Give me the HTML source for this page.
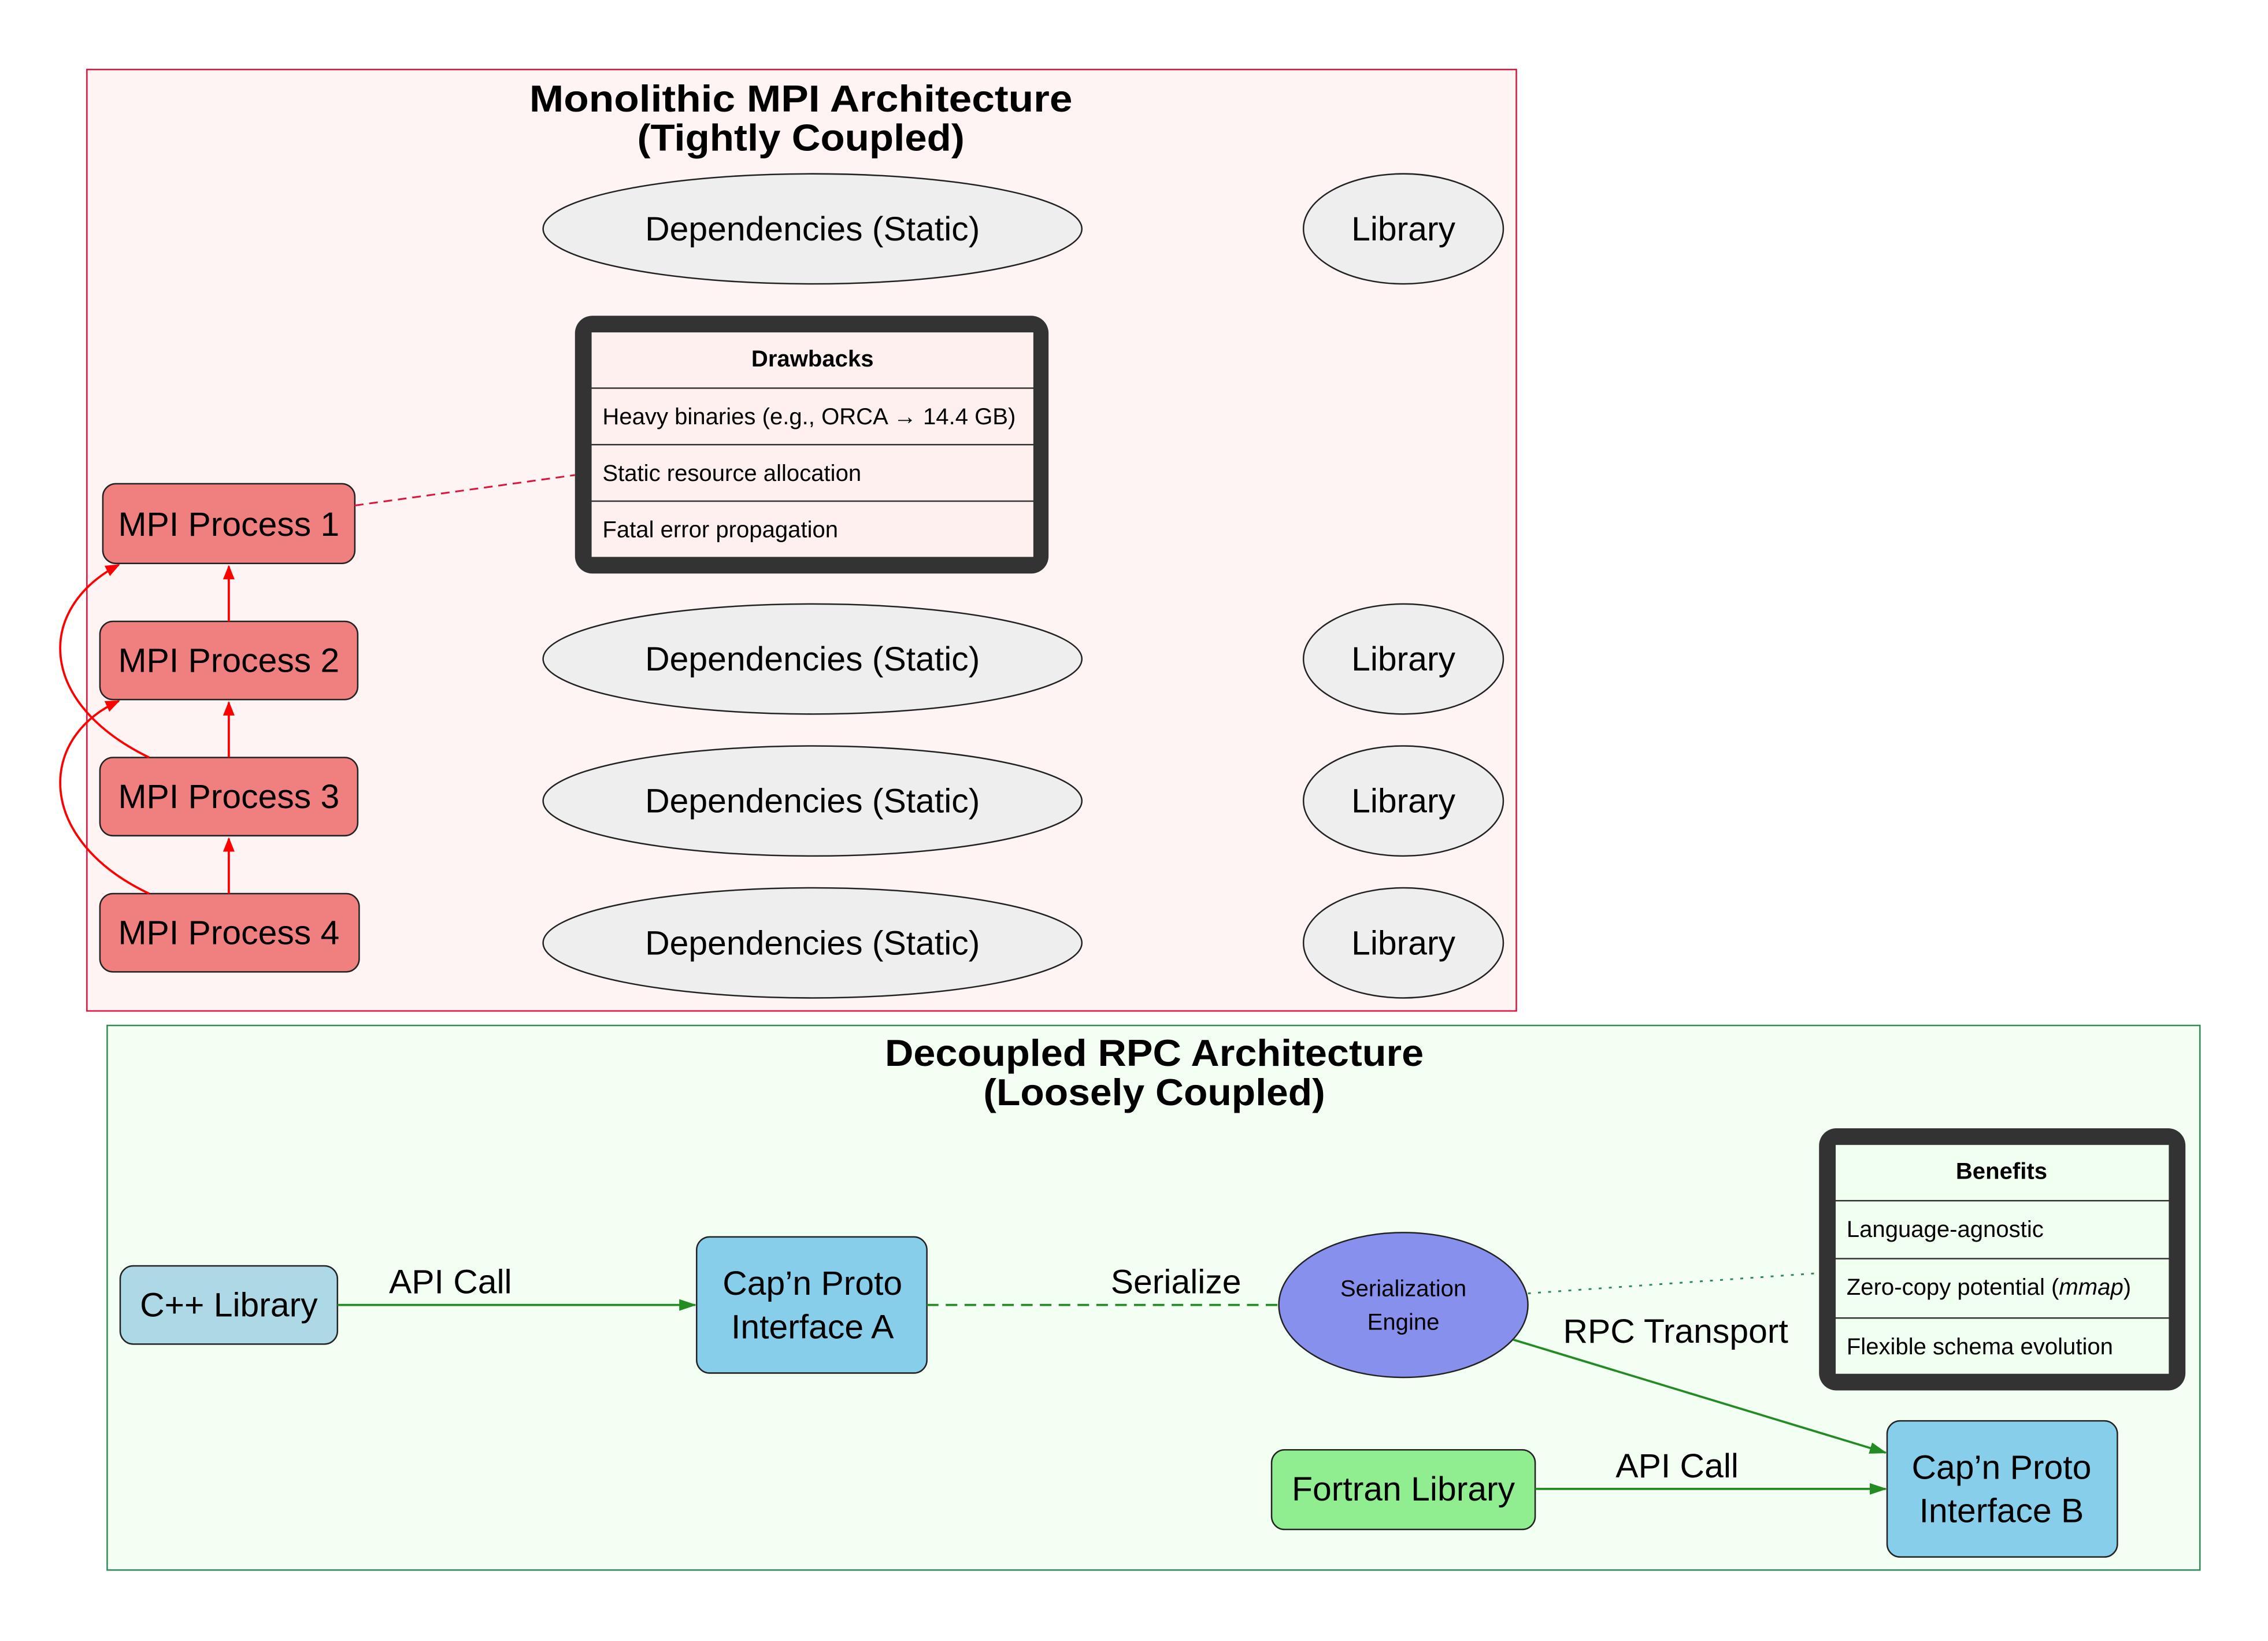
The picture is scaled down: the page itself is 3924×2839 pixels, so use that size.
<!DOCTYPE html>
<html><head><meta charset="utf-8"><style>
html,body{margin:0;padding:0;background:#fff;}
svg{display:block;}
text{font-family:"Liberation Sans","DejaVu Sans",sans-serif;fill:#000;}
</style></head><body>
<svg width="3924" height="2839" viewBox="0 0 1566 1133" preserveAspectRatio="none" xmlns="http://www.w3.org/2000/svg">
<defs>
<marker id="ar" markerWidth="10" markerHeight="10" refX="9" refY="5" orient="auto" markerUnits="userSpaceOnUse"><path d="M0,1 L10,5 L0,9 Z" fill="#ff0000"/></marker>
<marker id="ag" markerWidth="12" markerHeight="10" refX="11" refY="5" orient="auto" markerUnits="userSpaceOnUse"><path d="M0,1 L12,5 L0,9 Z" fill="#228b22"/></marker>
</defs>
<rect width="1566" height="1133" fill="#fff"/>
<!-- Top cluster -->
<rect x="60" y="48" width="987" height="650" fill="#fff4f4" stroke="#dc143c" stroke-width="1"/>
<text x="553" y="77" font-size="26" font-weight="bold" text-anchor="middle" textLength="375" lengthAdjust="spacingAndGlyphs">Monolithic MPI Architecture</text>
<text x="553" y="104" font-size="26" font-weight="bold" text-anchor="middle" textLength="226" lengthAdjust="spacingAndGlyphs">(Tightly Coupled)</text>
<g fill="#eeeeee" stroke="#222" stroke-width="1">
<ellipse cx="561" cy="158" rx="186" ry="38"/><ellipse cx="969" cy="158" rx="69" ry="38"/>
<ellipse cx="561" cy="455" rx="186" ry="38"/><ellipse cx="969" cy="455" rx="69" ry="38"/>
<ellipse cx="561" cy="553" rx="186" ry="38"/><ellipse cx="969" cy="553" rx="69" ry="38"/>
<ellipse cx="561" cy="651" rx="186" ry="38"/><ellipse cx="969" cy="651" rx="69" ry="38"/>
</g>
<g font-size="23.5" text-anchor="middle">
<text x="561" y="166">Dependencies (Static)</text><text x="969" y="166">Library</text>
<text x="561" y="463">Dependencies (Static)</text><text x="969" y="463">Library</text>
<text x="561" y="561">Dependencies (Static)</text><text x="969" y="561">Library</text>
<text x="561" y="659">Dependencies (Static)</text><text x="969" y="659">Library</text>
</g>
<!-- Drawbacks -->
<rect x="397" y="218" width="327" height="178" rx="12" fill="#333"/>
<rect x="408" y="229" width="306" height="156" fill="#fff0f0" stroke="#333" stroke-width="1"/>
<line x1="408" y1="268" x2="714" y2="268" stroke="#333"/>
<line x1="408" y1="307" x2="714" y2="307" stroke="#333"/>
<line x1="408" y1="346" x2="714" y2="346" stroke="#333"/>
<text x="561" y="253" font-size="16" font-weight="bold" text-anchor="middle">Drawbacks</text>
<text x="416" y="293" font-size="16">Heavy binaries (e.g., ORCA → 14.4 GB)</text>
<text x="416" y="332" font-size="16">Static resource allocation</text>
<text x="416" y="371" font-size="16">Fatal error propagation</text>
<!-- MPI processes -->
<g fill="#f08080" stroke="#222" stroke-width="1">
<rect x="71" y="334" width="174" height="55" rx="9"/>
<rect x="69" y="429" width="178" height="54" rx="9"/>
<rect x="69" y="523" width="178" height="54" rx="9"/>
<rect x="69" y="617" width="179" height="54" rx="9"/>
</g>
<g font-size="23.5" text-anchor="middle">
<text x="158" y="370">MPI Process 1</text>
<text x="158" y="464">MPI Process 2</text>
<text x="158" y="558">MPI Process 3</text>
<text x="158" y="652">MPI Process 4</text>
</g>
<g stroke="#ff0000" stroke-width="1.5" fill="none">
<line x1="158" y1="429" x2="158" y2="391" marker-end="url(#ar)"/>
<line x1="158" y1="523" x2="158" y2="485" marker-end="url(#ar)"/>
<line x1="158" y1="617" x2="158" y2="579" marker-end="url(#ar)"/>
<path d="M103,523 C25,485 25,420 82,390" marker-end="url(#ar)"/>
<path d="M103,617 C25,580 25,510 82,484" marker-end="url(#ar)"/>
</g>
<line x1="245" y1="349" x2="397" y2="328" stroke="#dc143c" stroke-width="1.2" stroke-dasharray="6,4"/>
<!-- Bottom cluster -->
<rect x="74" y="708" width="1445" height="376" fill="#f4fff4" stroke="#2e8b57" stroke-width="1"/>
<text x="797" y="736" font-size="26" font-weight="bold" text-anchor="middle" textLength="372" lengthAdjust="spacingAndGlyphs">Decoupled RPC Architecture</text>
<text x="797" y="763" font-size="26" font-weight="bold" text-anchor="middle" textLength="236" lengthAdjust="spacingAndGlyphs">(Loosely Coupled)</text>
<rect x="83" y="874" width="150" height="54" rx="9" fill="#add8e6" stroke="#222"/>
<text x="158" y="909" font-size="23.5" text-anchor="middle">C++ Library</text>
<rect x="481" y="854" width="159" height="94" rx="9" fill="#87ceeb" stroke="#222"/>
<text x="561" y="894" font-size="23.5" text-anchor="middle">Cap’n Proto</text>
<text x="561" y="924" font-size="23.5" text-anchor="middle">Interface A</text>
<ellipse cx="969" cy="901" rx="86" ry="50" fill="#8890ee" stroke="#222"/>
<text x="969" y="895" font-size="16" text-anchor="middle">Serialization</text>
<text x="969" y="918" font-size="16" text-anchor="middle">Engine</text>
<rect x="878" y="1001" width="182" height="55" rx="9" fill="#90ee90" stroke="#222"/>
<text x="969" y="1036" font-size="23.5" text-anchor="middle">Fortran Library</text>
<rect x="1303" y="981" width="159" height="94" rx="9" fill="#87ceeb" stroke="#222"/>
<text x="1382" y="1021" font-size="23.5" text-anchor="middle">Cap’n Proto</text>
<text x="1382" y="1051" font-size="23.5" text-anchor="middle">Interface B</text>
<!-- Benefits -->
<rect x="1256" y="779" width="253" height="181" rx="12" fill="#333"/>
<rect x="1267" y="790" width="231" height="159" fill="#f0fff0" stroke="#333"/>
<line x1="1267" y1="829" x2="1498" y2="829" stroke="#333"/>
<line x1="1267" y1="869" x2="1498" y2="869" stroke="#333"/>
<line x1="1267" y1="910" x2="1498" y2="910" stroke="#333"/>
<text x="1382" y="814" font-size="16" font-weight="bold" text-anchor="middle">Benefits</text>
<text x="1275" y="854" font-size="16">Language-agnostic</text>
<text x="1275" y="894" font-size="16">Zero-copy potential (<tspan font-style="italic">mmap</tspan>)</text>
<text x="1275" y="935" font-size="16">Flexible schema evolution</text>
<!-- edges -->
<g stroke="#228b22" stroke-width="1.5" fill="none">
<line x1="233" y1="901" x2="480" y2="901" marker-end="url(#ag)"/>
<line x1="640" y1="901" x2="883" y2="901" stroke-dasharray="8,5"/>
<line x1="1045" y1="925" x2="1302" y2="1003" marker-end="url(#ag)"/>
<line x1="1060" y1="1028" x2="1302" y2="1028" marker-end="url(#ag)"/>
</g>
<line x1="1055" y1="893" x2="1256" y2="879" stroke="#2e8b57" stroke-width="1.2" stroke-dasharray="2,5"/>
<g font-size="23.5" text-anchor="middle">
<text x="311" y="893">API Call</text>
<text x="812" y="893">Serialize</text>
<text x="1157" y="927">RPC Transport</text>
<text x="1158" y="1020">API Call</text>
</g>
</svg>
</body></html>
